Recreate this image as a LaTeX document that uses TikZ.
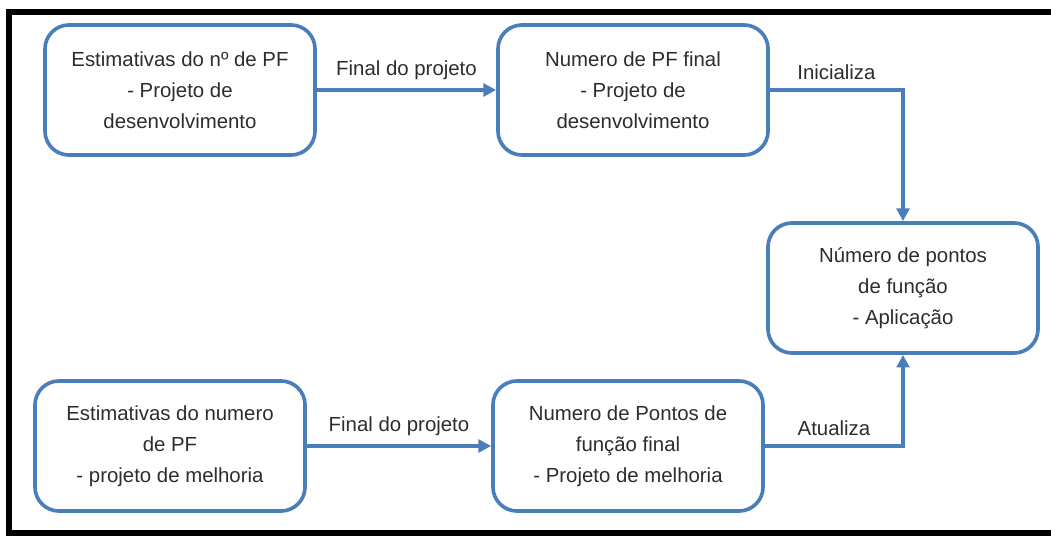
\documentclass[tikz,border=0pt]{standalone}
\usepackage{fontspec}
\setmainfont{Liberation Sans}
\usetikzlibrary{arrows.meta}
\definecolor{caixaazul}{RGB}{74,126,187}
\definecolor{textocinza}{RGB}{45,45,45}
\begin{document}
\begin{tikzpicture}[x=0.025cm, y=-0.025cm,
    caixa/.style={draw=caixaazul, line width=2.6pt, rounded corners=0.6cm, fill=white,
        minimum width=6.75cm, minimum height=3.25cm, align=center, text=textocinza,
        font=\fontsize{14.5}{22}\selectfont},
    fluxo/.style={draw=caixaazul, line width=2.4pt, -{Triangle[length=9pt,width=9pt]}},
    rotulo/.style={text=textocinza, font=\fontsize{14.5}{22}\selectfont, inner sep=6pt}]
            % Quadro (fundo e moldura aberta a direita)
            \useasboundingbox (0,0) rectangle (1051,536);
            \fill[white] (0,0) rectangle (1051,536);
            \draw[line width=4.2pt, black] (1051,12) -- (9,12) -- (9,533) -- (1051,533);

            % Coordenadas
            \coordinate (A) at (180,90);   % estimativas - desenvolvimento
            \coordinate (B) at (633,90);   % PF final - desenvolvimento
            \coordinate (C) at (903,288);  % aplicacao
            \coordinate (D) at (170,446);  % estimativas - melhoria
            \coordinate (E) at (628,446);  % PF final - melhoria

            % Caixas
            \node[caixa] (estDes) at (A) {Estimativas do nº de PF\\- Projeto de\\desenvolvimento};
            \node[caixa] (finDes) at (B) {Numero de PF final\\- Projeto de\\desenvolvimento};
            \node[caixa] (aplic) at (C) {Número de pontos\\de função\\- Aplicação};
            \node[caixa] (estMel) at (D) {Estimativas do numero\\de PF\\- projeto de melhoria};
            \node[caixa] (finMel) at (E) {Numero de Pontos de\\função final\\- Projeto de melhoria};

            % Ligacoes
            \draw[fluxo] (estDes) -- (finDes) node[midway, above, rotulo] {Final do projeto};
            \draw[fluxo] (finDes.east) -| (aplic.north) node[pos=0.25, above, rotulo] {Inicializa};
            \draw[fluxo] (estMel) -- (finMel) node[midway, above, rotulo] {Final do projeto};
            \draw[fluxo] (finMel.east) -| (aplic.south) node[pos=0.25, above, rotulo] {Atualiza};

        \end{tikzpicture}
\end{document}
